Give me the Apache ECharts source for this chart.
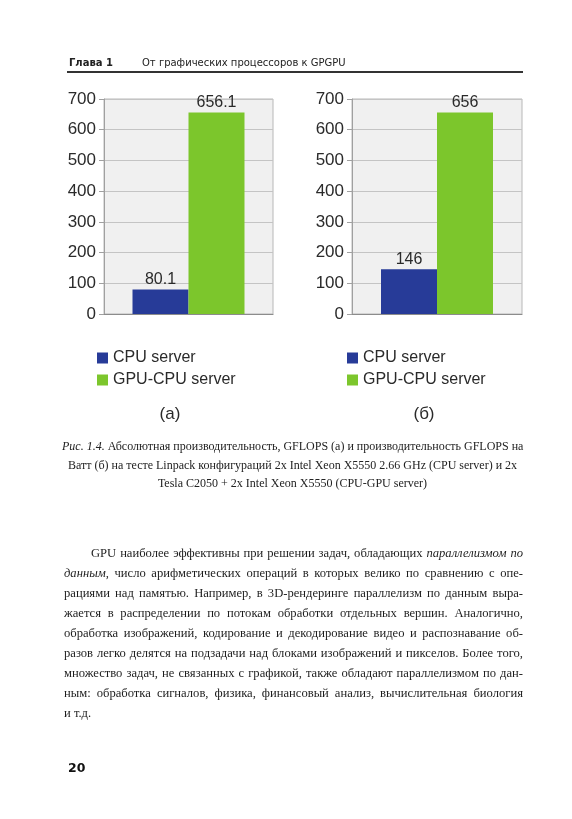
<!DOCTYPE html>
<html>
<head>
<meta charset="utf-8">
<script src="https://cdn.jsdelivr.net/npm/echarts@6/dist/echarts.min.js"></script>
<style>
html,body{margin:0;padding:0;background:#fff;}
#page{position:relative;width:572px;height:819px;overflow:hidden;background:#fff;}
#chart{position:absolute;left:0;top:0;width:572px;height:819px;}
.t{position:absolute;white-space:nowrap;color:#1e1e1e;}
.hdr{font-family:"DejaVu Sans",sans-serif;font-size:10px;height:14px;line-height:14px;top:56px;color:#222;}
.cap{font-family:"Liberation Serif",serif;font-size:12px;height:18px;line-height:18px;left:62px;width:461px;text-align:center;color:#222;}
.body{font-family:"Liberation Serif",serif;font-size:12.6px;height:20px;line-height:20px;left:64px;width:459px;text-align:justify;text-align-last:justify;color:#1e1e1e;}
</style>
</head>
<body>
<div id="page">
  <div id="chart"></div>
  <div class="t hdr" style="left:69px;font-weight:bold;">Глава 1</div>
  <div class="t hdr" style="left:142px;">От графических процессоров к GPGPU</div>
  <div style="position:absolute;left:67px;top:71px;width:456px;height:1.5px;background:#333;"></div>

  <div class="t cap" style="top:437px;text-align:justify;text-align-last:justify;"><i>Рис. 1.4.</i> Абсолютная производительность, GFLOPS (а) и производительность GFLOPS на</div>
  <div class="t cap" style="top:456px;">Ватт (б) на тесте Linpack конфигураций 2x Intel Xeon X5550 2.66 GHz (CPU server) и 2x</div>
  <div class="t cap" style="top:474px;">Tesla C2050 + 2x Intel Xeon X5550 (CPU-GPU server)</div>

  <div class="t body" style="top:543px;left:91px;width:432px;">GPU наиболее эффективны при решении задач, обладающих <i>параллелизмом по</i></div>
  <div class="t body" style="top:563px;"><i>данным</i>, число арифметических операций в которых велико по сравнению с опе-</div>
  <div class="t body" style="top:583px;">рациями над памятью. Например, в 3D-рендеринге параллелизм по данным выра-</div>
  <div class="t body" style="top:603px;">жается в распределении по потокам обработки отдельных вершин. Аналогично,</div>
  <div class="t body" style="top:623px;">обработка изображений, кодирование и декодирование видео и распознавание об-</div>
  <div class="t body" style="top:643px;">разов легко делятся на подзадачи над блоками изображений и пикселов. Более того,</div>
  <div class="t body" style="top:663px;">множество задач, не связанных с графикой, также обладают параллелизмом по дан-</div>
  <div class="t body" style="top:683px;">ным: обработка сигналов, физика, финансовый анализ, вычислительная биология</div>
  <div class="t body" style="top:703px;text-align-last:left;">и т.д.</div>

  <div class="t" style="left:68px;top:760px;font-family:'DejaVu Sans',sans-serif;font-weight:bold;font-size:12.5px;line-height:16px;color:#111;">20</div>
</div>
<script>
// ---- data ----
const seriesNames = ['CPU server', 'GPU-CPU server'];
const panelLabels = ['(а)', '(б)'];
const cpuValues = [80.1, 146];
const gpuValues = [656.1, 656];
const yMin = 0, yMax = 700, yStep = 100;
const seriesColors = ['#273b98', '#7cc62c'];

const chart = echarts.init(document.getElementById('chart'), null, {renderer: 'canvas'});
const FONT = 'Liberation Sans, Arial, sans-serif';

const gridPos = [
  {left: 104, top: 99, width: 169, height: 215},
  {left: 352, top: 99, width: 170, height: 215}
];
const legendPos = [{left: 92, top: 345}, {left: 342, top: 345}];
const panelLabelPos = [{x: 170, y: 414}, {x: 424, y: 414}];

const grids = gridPos.map(g => Object.assign({
  show: true, backgroundColor: '#f0f0f0', borderColor: '#b8b8b8', borderWidth: 1,
  containLabel: false, outerBoundsMode: 'none'
}, g));

const xAxes = gridPos.map((g, i) => ({
  type: 'category', gridIndex: i, data: [''],
  axisLine: {show: true, lineStyle: {color: '#8c8c8c', width: 1.2}},
  axisTick: {show: false}, axisLabel: {show: false}, splitLine: {show: false}
}));

const yAxes = gridPos.map((g, i) => ({
  type: 'value', gridIndex: i, min: yMin, max: yMax, interval: yStep,
  axisLine: {show: true, lineStyle: {color: '#a0a0a0'}},
  axisTick: {show: true, length: 5, lineStyle: {color: '#a0a0a0'}},
  axisLabel: {fontSize: 17, color: '#2a2a2a', fontFamily: FONT, margin: 8},
  splitLine: {show: true, lineStyle: {color: '#c4c4c4', width: 1}}
}));

const series = [];
[cpuValues, gpuValues].forEach((vals, s) => {
  vals.forEach((v, i) => {
    series.push({
      name: seriesNames[s], type: 'bar', xAxisIndex: i, yAxisIndex: i,
      data: [v], barWidth: 56, barGap: '0%',
      itemStyle: {color: seriesColors[s]},
      label: {show: true, position: 'top', distance: 2, fontSize: 16, color: '#2a2a2a', fontFamily: FONT},
      animation: false
    });
  });
});

const legends = legendPos.map(p => ({
  left: p.left, top: p.top, orient: 'vertical', icon: 'rect',
  itemWidth: 11, itemHeight: 11, itemGap: 6,
  data: seriesNames,
  textStyle: {fontSize: 16, color: '#2a2a2a', fontFamily: FONT}
}));

const graphics = panelLabels.map((txt, i) => ({
  type: 'text', x: panelLabelPos[i].x, y: panelLabelPos[i].y,
  style: {text: txt, font: '17px ' + FONT, fill: '#2a2a2a', align: 'center', verticalAlign: 'middle'}
}));

chart.setOption({
  animation: false,
  grid: grids,
  xAxis: xAxes,
  yAxis: yAxes,
  legend: legends,
  series: series,
  graphic: graphics
});
</script>
</body>
</html>
